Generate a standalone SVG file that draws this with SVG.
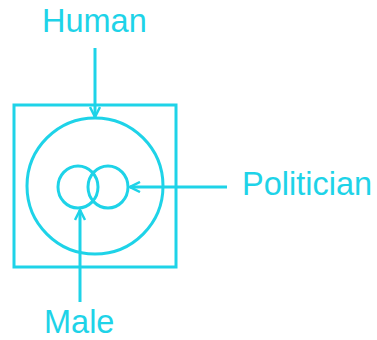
<svg xmlns="http://www.w3.org/2000/svg" width="377" height="340" viewBox="0 0 377 340">
<defs>
<marker id="v" viewBox="0 0 12 12" refX="11" refY="6" markerWidth="12" markerHeight="12" markerUnits="userSpaceOnUse" orient="auto">
<path d="M1,1 L11,6 L1,11" fill="none" stroke="#1ed3e8" stroke-width="2.5"/>
</marker>
<style>
.s{fill:none;stroke:#1ed3e8;stroke-width:3}
.t{font-family:"Liberation Sans",Arial,sans-serif;font-size:32.5px;fill:#1ed3e8}
.c{fill:none;stroke:#1ed3e8;stroke-width:3;marker-end:url(#v)}
</style>
</defs>
<rect width="377" height="340" fill="#fff"/>
<g id="human-box"><rect class="s" x="14" y="105" width="162" height="162"/></g>
<g id="politician-circle"><circle class="s" cx="95" cy="186" r="68"/></g>
<g id="male-circle"><ellipse class="s" cx="78" cy="187" rx="20" ry="21"/></g>
<g id="politician-inner"><ellipse class="s" cx="108" cy="187" rx="20" ry="21"/></g>
<g id="connectors">
<line class="c" x1="95" y1="48" x2="95" y2="117"/>
<line class="c" x1="227" y1="187" x2="130" y2="187"/>
<line class="c" x1="80" y1="302" x2="80" y2="210"/>
</g>
<g id="label-human"><text class="t" x="42" y="32">Human</text></g>
<g id="label-politician"><text class="t" x="242" y="195">Politician</text></g>
<g id="label-male"><text class="t" x="44" y="333">Male</text></g>
</svg>
